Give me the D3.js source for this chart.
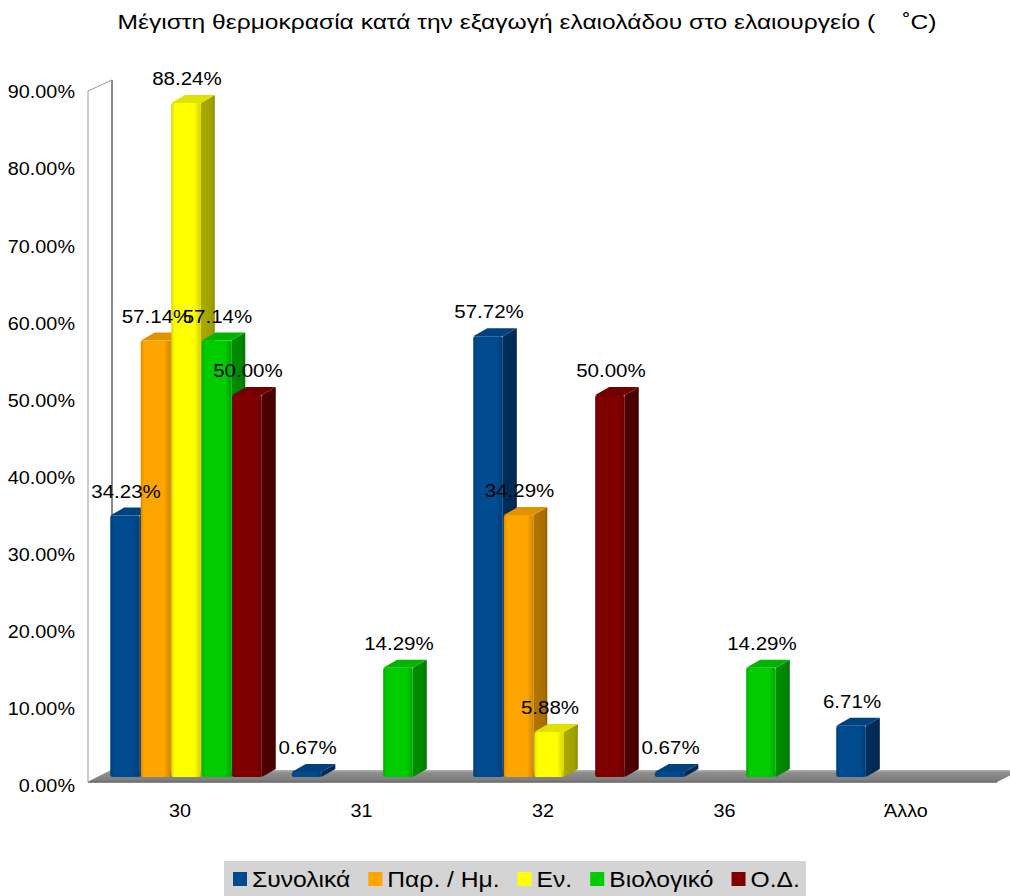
<!DOCTYPE html>
<html>
<head>
<meta charset="utf-8">
<script src="https://cdn.jsdelivr.net/npm/d3@7"></script>
<style>
  html, body { margin: 0; padding: 0; background: #fff; }
  svg { display: block; font-family: "Liberation Sans", Arial, sans-serif; }
</style>
</head>
<body>
<svg id="chart" width="1010" height="896"></svg>
<script>
const title = "Μέγιστη θερμοκρασία κατά την εξαγωγή ελαιολάδου στο ελαιουργείο (    ˚C)";
const categories = ["30", "31", "32", "36", "Άλλο"];
const seriesNames = ["Συνολικά", "Παρ. / Ημ.", "Εν.", "Βιολογικό", "Ο.Δ."];
const seriesColors = ["#004a8f", "#ffa500", "#ffff00", "#00cc00", "#800000"];
const sideColors = ["#002a55", "#a86d00", "#9f9f00", "#008400", "#4a0000"];
const totalValues = [34.23, 0.67, 57.72, 0.67, 6.71];
const parHmValues = [57.14, 0, 34.29, 0, 0];
const enValues = [88.24, 0, 5.88, 0, 0];
const bioValues = [57.14, 14.29, 0, 14.29, 0];
const odValues = [50.00, 0, 50.00, 0, 0];
const yTicks = [0, 10, 20, 30, 40, 50, 60, 70, 80, 90];

const seriesValues = [totalValues, parHmValues, enValues, bioValues, odValues];

const svg = d3.select("#chart");
const defs = svg.append("defs");

function stretch(sel, factor) {
  sel.each(function () {
    const len = this.getComputedTextLength();
    d3.select(this).attr("textLength", len * factor).attr("lengthAdjust", "spacingAndGlyphs");
  });
}

// scales
const x = d3.scaleBand().domain(categories).range([89.25, 996.75]).padding(0);
const xs = d3.scaleBand().domain(d3.range(seriesNames.length)).range([21, 21 + 151.5]).paddingInner(0.03);
const yAxisScale = d3.scaleLinear().domain([0, 90]).range([786, 92]);
const yBar = d3.scaleLinear().domain([0, 90]).range([777, 777 - 687.4]);
const DX = 14, DY = 8;

// gradients
seriesColors.forEach((c, i) => {
  const base = d3.color(c);
  const g = defs.append("linearGradient").attr("id", "front" + i).attr("x1", 0).attr("x2", 1).attr("y1", 0).attr("y2", 0);
  g.append("stop").attr("offset", "0%").attr("stop-color", base.darker(0.45));
  g.append("stop").attr("offset", "12%").attr("stop-color", base);
  g.append("stop").attr("offset", "78%").attr("stop-color", base);
  g.append("stop").attr("offset", "100%").attr("stop-color", base.darker(0.55));
  const s = defs.append("linearGradient").attr("id", "side" + i).attr("x1", 0).attr("x2", 1).attr("y1", 0).attr("y2", 0);
  s.append("stop").attr("offset", "0%").attr("stop-color", d3.color(sideColors[i]).brighter(0.2));
  s.append("stop").attr("offset", "80%").attr("stop-color", sideColors[i]);
  s.append("stop").attr("offset", "100%").attr("stop-color", d3.color(sideColors[i]).darker(0.4));
});
const fg = defs.append("linearGradient").attr("id", "floorGrad").attr("x1", 0).attr("x2", 0).attr("y1", 0).attr("y2", 1);
fg.append("stop").attr("offset", "0%").attr("stop-color", "#b4b4b4");
fg.append("stop").attr("offset", "25%").attr("stop-color", "#8c8c8c");
fg.append("stop").attr("offset", "85%").attr("stop-color", "#7e7e7e");
fg.append("stop").attr("offset", "100%").attr("stop-color", "#6a6a6a");

// title
svg.append("text")
  .attr("x", 527).attr("y", 29)
  .attr("text-anchor", "middle")
  .attr("font-size", 20)
  .style("white-space", "pre")
  .attr("textLength", 819).attr("lengthAdjust", "spacingAndGlyphs")
  .text(title);

// left wall
const wallFrontX = 88, wallBackX = 112;
svg.append("polygon")
  .attr("points", [[wallFrontX, 782], [wallFrontX, 91], [wallBackX, 80], [wallBackX, 770]].map(p => p.join(",")).join(" "))
  .attr("fill", "#fff").attr("stroke", "#9a9a9a").attr("stroke-width", 1);
svg.append("line").attr("x1", wallBackX).attr("x2", wallBackX).attr("y1", 80).attr("y2", 770)
  .attr("stroke", "#8a8a8a").attr("stroke-width", 2);

// floor
svg.append("polygon")
  .attr("points", [[88, 782], [997, 782], [1021, 770], [112, 770]].map(p => p.join(",")).join(" "))
  .attr("fill", "url(#floorGrad)");
svg.append("line").attr("x1", 88).attr("x2", 997).attr("y1", 782.5).attr("y2", 782.5)
  .attr("stroke", "#8a8a8a").attr("stroke-width", 1);

// y axis labels
svg.append("g").selectAll("text").data(yTicks).join("text")
  .attr("x", 75).attr("y", d => yAxisScale(d))
  .attr("dy", "0.35em")
  .attr("text-anchor", "end")
  .attr("font-size", 18)
  .text(d => d3.format(".2f")(d) + "%")
  .call(stretch, 1.1);

// category labels
svg.append("g").selectAll("text").data(categories).join("text")
  .attr("x", d => x(d) + x.bandwidth() / 2)
  .attr("y", 811).attr("dy", "0.35em")
  .attr("text-anchor", "middle")
  .attr("font-size", 18)
  .text(d => d)
  .call(stretch, 1.1);

// bars
const bars = [];
categories.forEach((cat, ci) => {
  seriesValues.forEach((vals, si) => {
    bars.push({ cat, ci, si, v: vals[ci] });
  });
});
const barG = svg.append("g");
const w = xs.bandwidth();
bars.filter(b => b.v > 0).forEach(b => {
  const x0 = x(b.cat) + xs(b.si);
  const yt = yBar(b.v), yb = yBar(0);
  const g = barG.append("g");
  g.append("polygon")
    .attr("points", [[x0 + w, yt], [x0 + w + DX, yt - DY], [x0 + w + DX, yb - DY], [x0 + w, yb]].map(p => p.join(",")).join(" "))
    .attr("fill", `url(#side${b.si})`);
  g.append("polygon")
    .attr("points", [[x0, yt], [x0 + DX, yt - DY], [x0 + w + DX, yt - DY], [x0 + w, yt]].map(p => p.join(",")).join(" "))
    .attr("fill", d3.color(seriesColors[b.si]).darker(0.35));
  g.append("rect")
    .attr("x", x0).attr("y", yt).attr("width", w).attr("height", Math.max(0.5, yb - yt))
    .attr("rx", 2)
    .attr("fill", `url(#front${b.si})`);
});

// data labels
svg.append("g").selectAll("text").data(bars.filter(b => b.v > 0)).join("text")
  .attr("x", b => x(b.cat) + xs(b.si) + w / 2 + 1)
  .attr("y", b => yBar(b.v) - 18)
  .attr("text-anchor", "middle")
  .attr("font-size", 18)
  .text(b => d3.format(".2f")(b.v) + "%")
  .call(stretch, 1.14);

// legend
const legend = svg.append("g");
legend.append("rect").attr("x", 224).attr("y", 861).attr("width", 582).attr("height", 40).attr("fill", "#d4d4d4");
let lx = 233;
const items = legend.selectAll("g").data(seriesNames).join("g");
items.each(function (name, i) {
  const g = d3.select(this);
  g.append("rect").attr("x", lx).attr("y", 872).attr("width", 14).attr("height", 14).attr("fill", seriesColors[i]);
  const t = g.append("text").attr("x", lx + 19).attr("y", 887).attr("font-size", 22).text(name);
  const tw = t.node().getComputedTextLength() * 1.12;
  t.attr("textLength", tw).attr("lengthAdjust", "spacingAndGlyphs");
  lx += 19 + tw + 18;
});
</script>
</body>
</html>
